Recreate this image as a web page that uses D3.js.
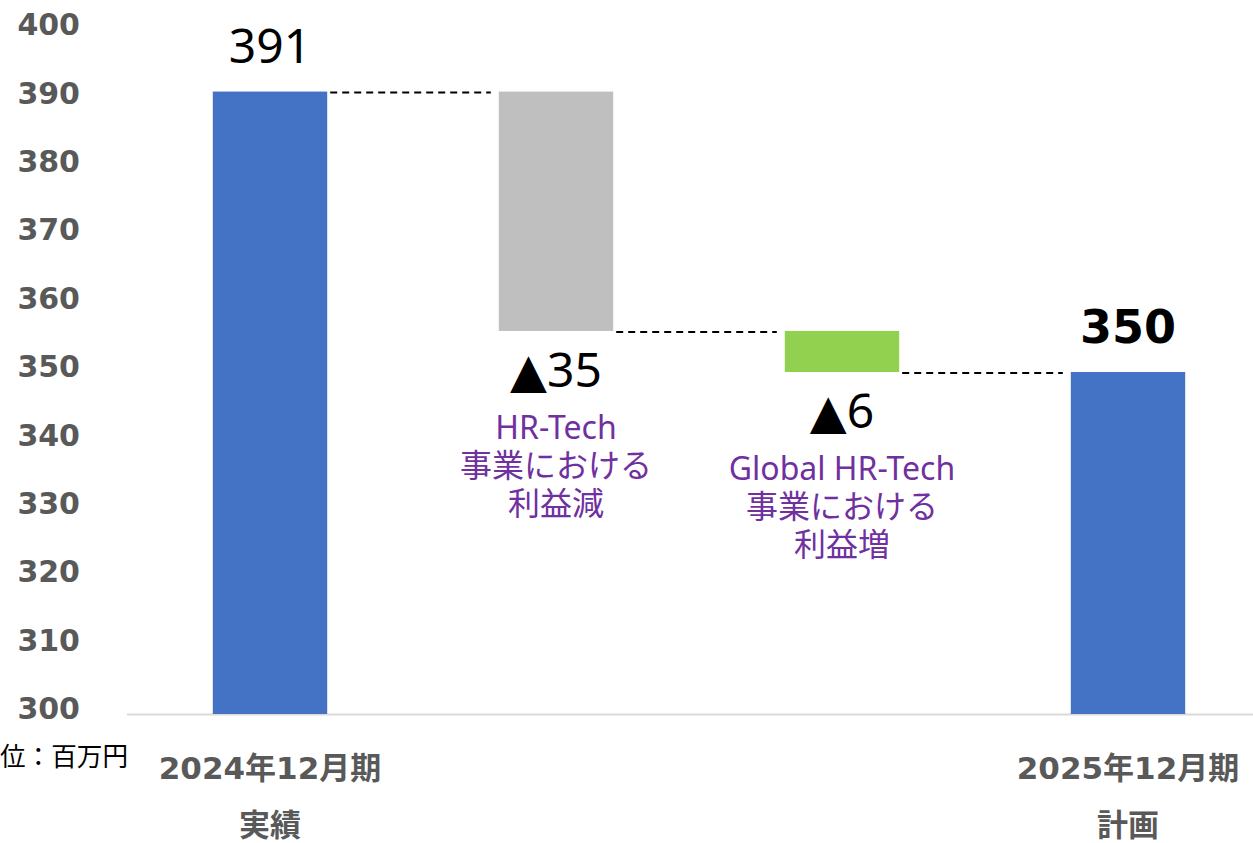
<!DOCTYPE html>
<html>
<head>
<meta charset="utf-8">
<script src="https://cdn.jsdelivr.net/npm/d3@7"></script>
<style>
  body { margin: 0; background: #fff; }
  svg { display: block; }
</style>
</head>
<body>
<svg id="chart" width="1253" height="843"></svg>
<script>
// chart values
const stepKeys = ['start', 'hr', 'global', 'end'];
const startValue = 391;
const deltas = [-35, -6];
const endValue = 350;
const deltaNotes = [
  ['HR-Tech', '事業における', '利益減'],
  ['Global HR-Tech', '事業における', '利益増']
];
const catLabels = [['2024年12月期', '実績'], [], [], ['2025年12月期', '計画']];
const yTicks = [300, 310, 320, 330, 340, 350, 360, 370, 380, 390, 400];
const unitLabel = '単位：百万円';

const W = 1253, H = 843;
const svg = d3.select('#chart');

const x = d3.scaleBand().domain(stepKeys).range([127, 1271])
  .paddingInner(0.6).paddingOuter(0.3);
const y = d3.scaleLinear().domain([300, 400]).range([714, 30]);
const bw = x.bandwidth();

// build waterfall rows
let run = startValue;
const bars = [{ key: 'start', lo: 300, hi: startValue, fill: '#4472C4', total: true }];
deltas.forEach((d, i) => {
  const next = run + d;
  bars.push({ key: stepKeys[i + 1], lo: Math.min(run, next), hi: Math.max(run, next),
    delta: d, note: deltaNotes[i],
    fill: i === 0 ? '#BFBFBF' : '#92D050' });
  run = next;
});
bars.push({ key: 'end', lo: 300, hi: endValue, fill: '#4472C4', total: true });

// y axis labels
const yAxis = svg.append('g')
  .attr('transform', 'translate(80,0)')
  .call(d3.axisLeft(y).tickValues(yTicks).tickSize(0).tickPadding(0));
yAxis.select('.domain').remove();
yAxis.selectAll('text')
  .attr('dy', '0.32em')
  .attr('y', -5)
  .attr('font-family', '"DejaVu Sans", sans-serif')
  .attr('font-weight', 'bold')
  .attr('font-size', '30px')
  .attr('fill', '#595959');

// baseline
svg.append('line')
  .attr('x1', 127).attr('x2', W)
  .attr('y1', y(300) + 0.5).attr('y2', y(300) + 0.5)
  .attr('stroke', '#D9D9D9').attr('stroke-width', 2);

// connectors
const levels = [startValue, startValue + deltas[0], endValue];
for (let i = 0; i < stepKeys.length - 1; i++) {
  svg.append('line')
    .attr('x1', x(stepKeys[i]) + bw + 3)
    .attr('x2', x(stepKeys[i + 1]) - 8)
    .attr('y1', y(levels[i]) + 1).attr('y2', y(levels[i]) + 1)
    .attr('stroke', '#000').attr('stroke-width', 2)
    .attr('stroke-dasharray', '7,5');
}

// bars
svg.append('g').selectAll('rect')
  .data(bars).join('rect')
  .attr('x', d => x(d.key))
  .attr('width', bw)
  .attr('y', d => y(d.hi))
  .attr('height', d => y(d.lo) - y(d.hi))
  .attr('fill', d => d.fill);

// total labels
const totals = bars.filter(d => d.total);
svg.append('g').selectAll('text')
  .data(totals).join('text')
  .attr('x', d => x(d.key) + bw / 2)
  .attr('y', d => y(d.hi) - 29)
  .attr('text-anchor', 'middle')
  .attr('font-family', d => d.key === 'end' ? '"DejaVu Sans", sans-serif' : '"Noto Sans", sans-serif')
  .attr('font-weight', d => d.key === 'end' ? 'bold' : 'normal')
  .attr('font-size', d => d.key === 'end' ? '46px' : '48px')
  .attr('fill', '#000')
  .text(d => d.hi);

// delta labels + notes
const steps = bars.filter(d => d.delta !== undefined);
steps.forEach(d => {
  const cx = x(d.key) + bw / 2;
  const base = y(d.lo) + 56;
  const t = svg.append('text')
    .attr('x', cx).attr('y', base)
    .attr('text-anchor', 'middle')
    .attr('font-family', '"Noto Sans", sans-serif')
    .attr('font-size', '48px').attr('fill', '#000');
  t.append('tspan').attr('font-family', '"DejaVu Sans", sans-serif').text('▲');
  t.append('tspan').text(Math.abs(d.delta));

  svg.append('g').selectAll('text')
    .data(d.note).join('text')
    .attr('x', cx)
    .attr('y', (s, i) => base + 52 + i * 38)
    .attr('text-anchor', 'middle')
    .attr('font-family', '"Noto Sans", "Noto Sans CJK JP", sans-serif')
    .attr('font-size', '32px')
    .attr('fill', '#7030A0')
    .text(s => s);
});

// category labels
stepKeys.forEach((k, i) => {
  svg.append('g').selectAll('text')
    .data(catLabels[i]).join('text')
    .attr('x', x(k) + bw / 2)
    .attr('y', (s, j) => 779 + j * 57)
    .attr('text-anchor', 'middle')
    .attr('font-family', '"DejaVu Sans", "Noto Sans CJK JP", sans-serif')
    .attr('font-weight', 'bold')
    .attr('font-size', '31px')
    .attr('fill', '#595959')
    .text(s => s);
});

// unit (cut at the left edge, as in the source slide)
svg.append('text')
  .attr('x', 128).attr('y', 766)
  .attr('text-anchor', 'end')
  .attr('font-family', '"Noto Sans CJK JP", sans-serif')
  .attr('font-size', '25.6px')
  .attr('fill', '#000')
  .text(unitLabel);
</script>
</body>
</html>
